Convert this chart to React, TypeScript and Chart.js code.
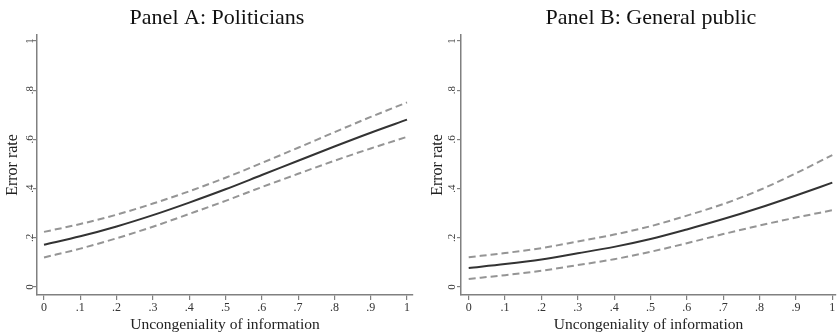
import React, { useEffect, useRef } from "react";
import { Chart, registerables } from "chart.js";

Chart.register(...registerables);

// ---- data ----
const unCongeniality = [0, 0.1, 0.2, 0.3, 0.4, 0.5, 0.6, 0.7, 0.8, 0.9, 1];

const politiciansFit = [0.172, 0.206, 0.246, 0.292, 0.343, 0.397, 0.455, 0.513, 0.571, 0.627, 0.68];
const politiciansUpper = [0.224, 0.256, 0.294, 0.339, 0.389, 0.444, 0.504, 0.566, 0.629, 0.691, 0.75];
const politiciansLower = [0.12, 0.156, 0.198, 0.245, 0.297, 0.35, 0.406, 0.46, 0.513, 0.563, 0.61];

const publicFit = [0.077, 0.093, 0.112, 0.137, 0.163, 0.195, 0.234, 0.276, 0.322, 0.372, 0.424];
const publicUpper = [0.121, 0.138, 0.158, 0.185, 0.213, 0.247, 0.29, 0.337, 0.394, 0.462, 0.536];
const publicLower = [0.033, 0.048, 0.066, 0.089, 0.113, 0.143, 0.178, 0.215, 0.25, 0.282, 0.312];

const xTickValues = [0, 0.1, 0.2, 0.3, 0.4, 0.5, 0.6, 0.7, 0.8, 0.9, 1];
const xTickLabels = ["0", ".1", ".2", ".3", ".4", ".5", ".6", ".7", ".8", ".9", "1"];
const yTickValues = [0, 0.2, 0.4, 0.6, 0.8, 1];
const yTickLabels = ["0", ".2", ".4", ".6", ".8", "1"];

const panelTitles = ["Panel A: Politicians", "Panel B: General public"];
const xAxisTitle = "Uncongeniality of information";
const yAxisTitle = "Error rate";

const SERIF = "'Liberation Serif', 'Times New Roman', serif";

const titlePlugin = {
  id: "panelTitle",
  afterDraw(chart: any, _args: any, opts: any) {
    const ctx = chart.ctx;
    ctx.save();
    ctx.font = `22px ${SERIF}`;
    ctx.fillStyle = "#111";
    ctx.textAlign = "center";
    ctx.textBaseline = "middle";
    ctx.fillText(opts.text, opts.x, opts.y);
    ctx.restore();
  },
};

type PanelProps = {
  title: string;
  titleX: number;
  fit: number[];
  upper: number[];
  lower: number[];
  yWidth: number;
  yTickPad: number;
  yTitlePad: number;
  padRight: number;
  xMin: number;
  xMax: number;
  left: number;
  width: number;
};

function Panel(p: PanelProps) {
  const ref = useRef<HTMLCanvasElement | null>(null);
  useEffect(() => {
    if (!ref.current) return;
    const mk = (vals: number[]) => unCongeniality.map((x, i) => ({ x, y: vals[i] }));
    const dashed = {
      borderColor: "#959595",
      borderWidth: 2,
      borderDash: [7, 4],
      pointRadius: 0,
      cubicInterpolationMode: "monotone" as const,
      fill: false,
    };
    const chart = new Chart(ref.current, {
      type: "line",
      data: {
        datasets: [
          { label: "upper", data: mk(p.upper), ...dashed },
          {
            label: "fit",
            data: mk(p.fit),
            borderColor: "#333333",
            borderWidth: 2,
            pointRadius: 0,
            cubicInterpolationMode: "monotone",
            fill: false,
          },
          { label: "lower", data: mk(p.lower), ...dashed },
        ],
      },
      options: {
        animation: false,
        responsive: false,
        maintainAspectRatio: false,
        events: [],
        layout: { padding: { top: 35, right: p.padRight, left: 0, bottom: 0 } },
        plugins: {
          legend: { display: false },
          tooltip: { enabled: false },
          title: { display: false },
          panelTitle: { text: p.title, x: p.titleX, y: 18 },
        } as any,
        scales: {
          x: {
            type: "linear",
            min: p.xMin,
            max: p.xMax,
            afterBuildTicks: (s: any) => {
              s.ticks = xTickValues.map((v) => ({ value: v }));
            },
            afterFit: (s: any) => {
              s.height = 41;
            },
            grid: {
              drawOnChartArea: false,
              drawTicks: true,
              tickLength: 5,
              color: "#808080",
              lineWidth: 1.2,
            },
            border: { display: true, color: "#808080", width: 1.5 },
            ticks: {
              autoSkip: false,
              maxRotation: 0,
              minRotation: 0,
              padding: 1,
              color: "#333",
              font: { family: SERIF, size: 12 },
              callback: (v: any) => {
                const i = xTickValues.findIndex((t) => Math.abs(t - Number(v)) < 1e-9);
                return i >= 0 ? xTickLabels[i] : "";
              },
            },
            title: {
              display: true,
              text: xAxisTitle,
              color: "#222",
              font: { family: SERIF, size: 15.5 },
              padding: { top: 0, bottom: 2 },
            },
          },
          y: {
            type: "linear",
            min: -0.0325,
            max: 1.024,
            afterBuildTicks: (s: any) => {
              s.ticks = yTickValues.map((v) => ({ value: v }));
            },
            afterFit: (s: any) => {
              s.width = p.yWidth;
            },
            grid: {
              drawOnChartArea: false,
              drawTicks: true,
              tickLength: 4,
              color: "#808080",
              lineWidth: 1.2,
            },
            border: { display: true, color: "#808080", width: 1.5 },
            ticks: {
              autoSkip: false,
              minRotation: 90,
              maxRotation: 90,
              crossAlign: "center",
              padding: p.yTickPad,
              color: "#333",
              font: { family: SERIF, size: 11 },
              callback: (v: any) => {
                const i = yTickValues.findIndex((t) => Math.abs(t - Number(v)) < 1e-9);
                return i >= 0 ? yTickLabels[i] : "";
              },
            },
            title: {
              display: true,
              text: yAxisTitle,
              color: "#222",
              font: { family: SERIF, size: 16 },
              padding: { top: p.yTitlePad, bottom: 0 },
            },
          },
        },
      },
      plugins: [titlePlugin],
    });
    return () => chart.destroy();
  }, []);
  return (
    <canvas
      ref={ref}
      width={p.width}
      height={336}
      style={{ position: "absolute", left: p.left, top: 0, width: p.width, height: 336 }}
    />
  );
}

export default function App() {
  return (
    <div
      style={{
        position: "fixed",
        left: 0,
        top: 0,
        width: 838,
        height: 336,
        background: "#fff",
        overflow: "hidden",
      }}
    >
      <Panel
        title={panelTitles[0]}
        titleX={217}
        fit={politiciansFit}
        upper={politiciansUpper}
        lower={politiciansLower}
        yWidth={37}
        yTickPad={-1}
        yTitlePad={3}
        padRight={5}
        xMin={-0.0193}
        xMax={1.0165}
        left={0}
        width={418}
      />
      <Panel
        title={panelTitles[1]}
        titleX={233}
        fit={publicFit}
        upper={publicUpper}
        lower={publicLower}
        yWidth={43}
        yTickPad={1}
        yTitlePad={10}
        padRight={2}
        xMin={-0.0212}
        xMax={1.0102}
        left={418}
        width={420}
      />
    </div>
  );
}
